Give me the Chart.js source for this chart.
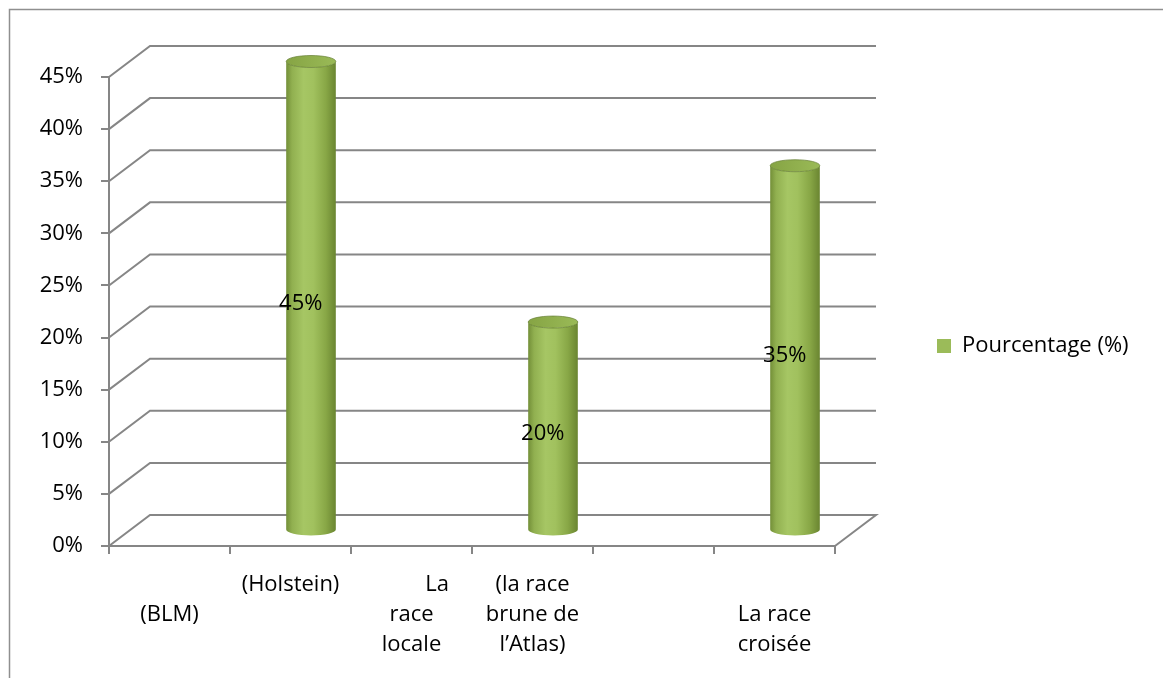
<!DOCTYPE html>
<html>
<head>
<meta charset="utf-8">
<script src="https://cdn.jsdelivr.net/npm/chart.js@4.4.0/dist/chart.umd.min.js"></script>
<style>
  html, body { margin: 0; padding: 0; background: #fff; }
</style>
</head>
<body>
<canvas id="chart" width="1163" height="678"></canvas>
<script>
// categories (multi-line, blank lines keep the staggered layout)
const categories = [
  ['', '(BLM)', ''],
  ['(Holstein)', '', ''],
  ['         La', 'race', 'locale'],
  ['(la race', 'brune de', 'l\u2019Atlas)'],
  [''],
  ['', 'La race', 'croisée']
];
const percentages = [null, 45, null, 20, null, 35];
const seriesLabel = 'Pourcentage (%)';
const yMax = 45;
const yStep = 5;

const FONT = "'Open Sans'";
const FONT_SIZE = 22;
const GRID = '#868686';
const OLIVE = '#9bbb59';
// offset of the back wall relative to the front plane
const DEPTH_X = 41, DEPTH_Y = -31;
const PLOT_RIGHT = 835;
const LEGEND_PAD = 102, LEGEND_BOX = 14;

Chart.defaults.font.family = FONT;
Chart.defaults.font.size = FONT_SIZE;
Chart.defaults.color = '#000';

const canvas = document.getElementById('chart');

// legend width is sized so the plot ends at PLOT_RIGHT
const mctx = canvas.getContext('2d');
mctx.font = `${FONT_SIZE}px ${FONT}`;
const legendWidth = LEGEND_PAD + LEGEND_BOX + FONT_SIZE / 2 + mctx.measureText(seriesLabel).width + 10;
const rightPad = canvas.width - PLOT_RIGHT - legendWidth;

const frame3d = {
  id: 'frame3d',
  beforeDraw(chart) {
    const { ctx } = chart;
    ctx.save();
    ctx.strokeStyle = '#8f8f8f';
    ctx.lineWidth = 1.5;
    ctx.strokeRect(9.5, 9.5, 1300, 800);
    ctx.restore();
  },
  beforeDatasetsDraw(chart) {
    const { ctx, chartArea: a, scales: { y } } = chart;
    ctx.save();
    ctx.strokeStyle = GRID;
    ctx.lineWidth = 2;
    y.ticks.forEach(t => {
      const py = y.getPixelForValue(t.value);
      ctx.beginPath();
      ctx.moveTo(a.left, py);
      ctx.lineTo(a.left + DEPTH_X, py + DEPTH_Y);
      ctx.lineTo(a.right + DEPTH_X, py + DEPTH_Y);
      if (t.value === 0) ctx.lineTo(a.right, py); // floor, right side
      ctx.stroke();
    });
    ctx.restore();
  },
  // flat bars are replaced by cylinders
  beforeDatasetDraw() { return false; },
  afterDatasetsDraw(chart) {
    const { ctx } = chart;
    const meta = chart.getDatasetMeta(0);
    ctx.save();
    meta.data.forEach((bar, i) => {
      const v = percentages[i];
      if (v == null) return;
      const { x, y, base, width } = bar.getProps(['x', 'y', 'base', 'width'], true);
      const cx = x + DEPTH_X / 2;
      const top = y + DEPTH_Y / 2;
      const bot = base + DEPTH_Y / 2;
      const rx = width / 2, ry = 6;

      const body = ctx.createLinearGradient(cx - rx, 0, cx + rx, 0);
      body.addColorStop(0, '#738f38');
      body.addColorStop(0.12, '#91b050');
      body.addColorStop(0.35, '#a6c664');
      body.addColorStop(0.55, '#a1c15e');
      body.addColorStop(0.8, '#88a746');
      body.addColorStop(1, '#6a8531');
      ctx.beginPath();
      ctx.moveTo(cx - rx, top);
      ctx.lineTo(cx - rx, bot);
      ctx.ellipse(cx, bot, rx, ry, 0, Math.PI, 0, true);
      ctx.lineTo(cx + rx, top);
      ctx.ellipse(cx, top, rx, ry, 0, 0, Math.PI, false);
      ctx.closePath();
      ctx.fillStyle = body;
      ctx.fill();

      const cap = ctx.createLinearGradient(cx - rx, 0, cx + rx, 0);
      cap.addColorStop(0, '#86a444');
      cap.addColorStop(1, '#9aba57');
      ctx.beginPath();
      ctx.ellipse(cx, top, rx, ry, 0, 0, Math.PI * 2);
      ctx.fillStyle = cap;
      ctx.fill();
      ctx.strokeStyle = 'rgba(100,125,50,0.7)';
      ctx.lineWidth = 1;
      ctx.stroke();

      ctx.fillStyle = '#000';
      ctx.font = `${FONT_SIZE}px ${FONT}`;
      ctx.textAlign = 'center';
      ctx.textBaseline = 'middle';
      ctx.fillText(v + '%', x + DEPTH_X / 4, (y + base) / 2 + DEPTH_Y / 4);
    });
    ctx.restore();
  }
};

new Chart(canvas, {
  type: 'bar',
  data: {
    labels: categories,
    datasets: [{
      label: seriesLabel,
      data: percentages,
      backgroundColor: OLIVE,
      borderWidth: 0,
      categoryPercentage: 1,
      barPercentage: 0.41
    }]
  },
  options: {
    responsive: false,
    animation: false,
    layout: { padding: { top: 24, bottom: 10, left: 0, right: rightPad } },
    plugins: {
      // empty title only reserves the space above the plot
      title: { display: true, text: '', padding: { top: 40, bottom: 0 }, font: { size: 10, lineHeight: '13px' } },
      legend: {
        position: 'right',
        fullSize: true,
        maxWidth: legendWidth,
        labels: { boxWidth: LEGEND_BOX, boxHeight: LEGEND_BOX, padding: LEGEND_PAD, color: '#000', font: { size: FONT_SIZE } }
      },
      tooltip: { enabled: false }
    },
    scales: {
      x: {
        afterFit: s => { s.height = 122; },
        grid: { drawOnChartArea: false, tickLength: 8, color: GRID, lineWidth: 2 },
        border: { display: true, color: GRID, width: 2 },
        ticks: {
          padding: 16, maxRotation: 0, minRotation: 0, autoSkip: false,
          font: { size: FONT_SIZE, lineHeight: '30px' }
        }
      },
      y: {
        min: 0,
        max: yMax,
        afterFit: s => { s.width = 109; },
        grid: { drawOnChartArea: false, tickLength: 8, color: GRID, lineWidth: 2 },
        border: { display: true, color: GRID, width: 2 },
        ticks: { stepSize: yStep, padding: 18, callback: v => v + '%', font: { size: FONT_SIZE } }
      }
    }
  },
  plugins: [frame3d]
});
</script>
</body>
</html>
